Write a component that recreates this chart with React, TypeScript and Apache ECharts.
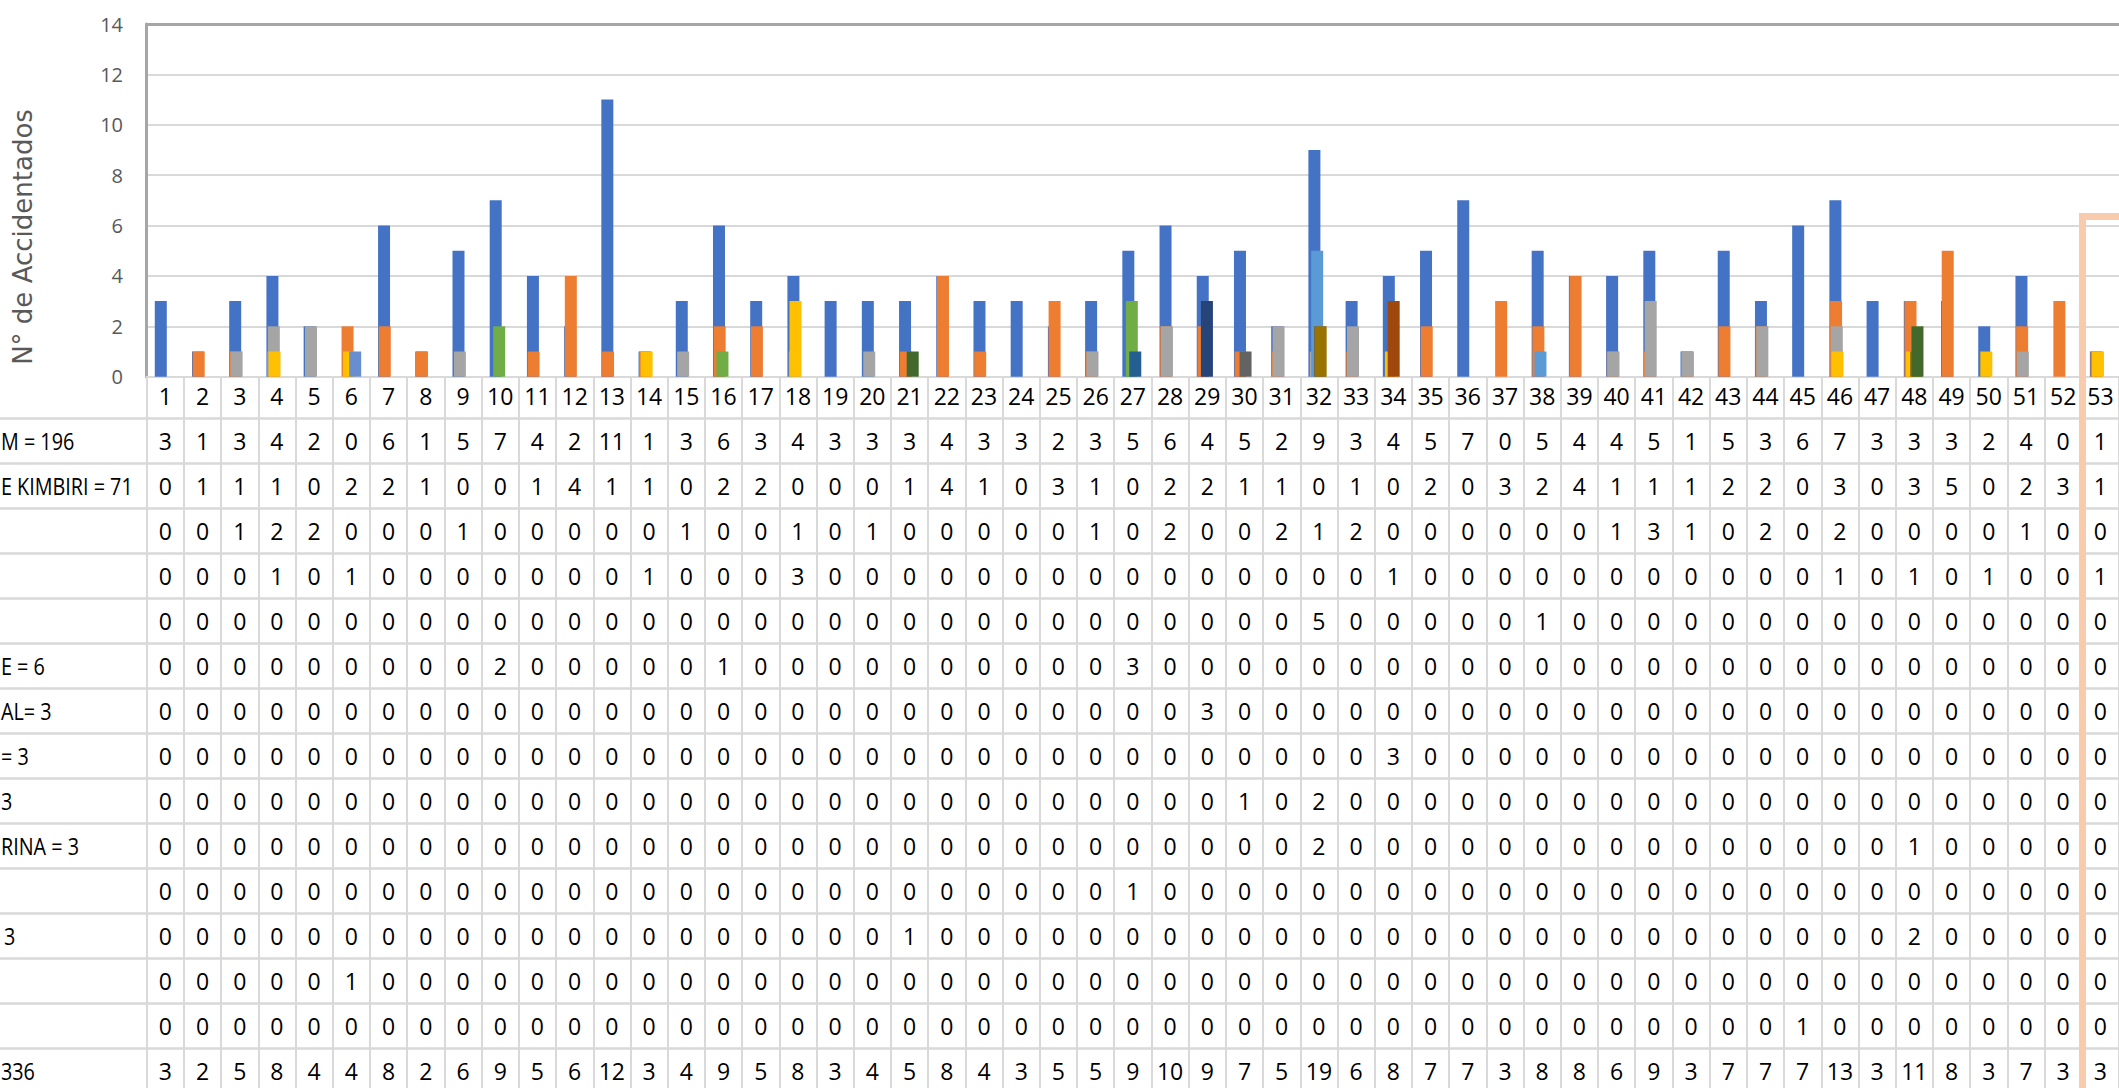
import React, { useEffect, useRef } from "react";
import * as echarts from "echarts";

// ---------- DATA ----------
const weeks = [
  "1","2","3","4","5","6","7","8","9","10",
  "11","12","13","14","15","16","17","18","19","20",
  "21","22","23","24","25","26","27","28","29","30",
  "31","32","33","34","35","36","37","38","39","40",
  "41","42","43","44","45","46","47","48","49","50",
  "51","52","53",
];

const s1 = [3,1,3,4,2,0,6,1,5,7, 4,2,11,1,3,6,3,4,3,3, 3,4,3,3,2,3,5,6,4,5, 2,9,3,4,5,7,0,5,4,4, 5,1,5,3,6,7,3,3,3,2, 4,0,1];
const s2 = [0,1,1,1,0,2,2,1,0,0, 1,4,1,1,0,2,2,0,0,0, 1,4,1,0,3,1,0,2,2,1, 1,0,1,0,2,0,3,2,4,1, 1,1,2,2,0,3,0,3,5,0, 2,3,1];
const s3 = [0,0,1,2,2,0,0,0,1,0, 0,0,0,0,1,0,0,1,0,1, 0,0,0,0,0,1,0,2,0,0, 2,1,2,0,0,0,0,0,0,1, 3,1,0,2,0,2,0,0,0,0, 1,0,0];
const s4 = [0,0,0,1,0,1,0,0,0,0, 0,0,0,1,0,0,0,3,0,0, 0,0,0,0,0,0,0,0,0,0, 0,0,0,1,0,0,0,0,0,0, 0,0,0,0,0,1,0,1,0,1, 0,0,1];
const s5 = [0,0,0,0,0,0,0,0,0,0, 0,0,0,0,0,0,0,0,0,0, 0,0,0,0,0,0,0,0,0,0, 0,5,0,0,0,0,0,1,0,0, 0,0,0,0,0,0,0,0,0,0, 0,0,0];
const s6 = [0,0,0,0,0,0,0,0,0,2, 0,0,0,0,0,1,0,0,0,0, 0,0,0,0,0,0,3,0,0,0, 0,0,0,0,0,0,0,0,0,0, 0,0,0,0,0,0,0,0,0,0, 0,0,0];
const s7 = [0,0,0,0,0,0,0,0,0,0, 0,0,0,0,0,0,0,0,0,0, 0,0,0,0,0,0,0,0,3,0, 0,0,0,0,0,0,0,0,0,0, 0,0,0,0,0,0,0,0,0,0, 0,0,0];
const s8 = [0,0,0,0,0,0,0,0,0,0, 0,0,0,0,0,0,0,0,0,0, 0,0,0,0,0,0,0,0,0,0, 0,0,0,3,0,0,0,0,0,0, 0,0,0,0,0,0,0,0,0,0, 0,0,0];
const s9 = [0,0,0,0,0,0,0,0,0,0, 0,0,0,0,0,0,0,0,0,0, 0,0,0,0,0,0,0,0,0,1, 0,2,0,0,0,0,0,0,0,0, 0,0,0,0,0,0,0,0,0,0, 0,0,0];
const s10 = [0,0,0,0,0,0,0,0,0,0, 0,0,0,0,0,0,0,0,0,0, 0,0,0,0,0,0,0,0,0,0, 0,2,0,0,0,0,0,0,0,0, 0,0,0,0,0,0,0,1,0,0, 0,0,0];
const s11 = [0,0,0,0,0,0,0,0,0,0, 0,0,0,0,0,0,0,0,0,0, 0,0,0,0,0,0,1,0,0,0, 0,0,0,0,0,0,0,0,0,0, 0,0,0,0,0,0,0,0,0,0, 0,0,0];
const s12 = [0,0,0,0,0,0,0,0,0,0, 0,0,0,0,0,0,0,0,0,0, 1,0,0,0,0,0,0,0,0,0, 0,0,0,0,0,0,0,0,0,0, 0,0,0,0,0,0,0,2,0,0, 0,0,0];
const s13 = [0,0,0,0,0,1,0,0,0,0, 0,0,0,0,0,0,0,0,0,0, 0,0,0,0,0,0,0,0,0,0, 0,0,0,0,0,0,0,0,0,0, 0,0,0,0,0,0,0,0,0,0, 0,0,0];
const s14 = [0,0,0,0,0,0,0,0,0,0, 0,0,0,0,0,0,0,0,0,0, 0,0,0,0,0,0,0,0,0,0, 0,0,0,0,0,0,0,0,0,0, 0,0,0,0,1,0,0,0,0,0, 0,0,0];
const totals = [3,2,5,8,4,4,8,2,6,9, 5,6,12,3,4,9,5,8,3,4, 5,8,4,3,5,5,9,10,9,7, 5,19,6,8,7,7,3,8,8,6, 9,3,7,7,7,13,3,11,8,3, 7,3,3];

const rowLabels = ["M = 196", "E KIMBIRI = 71", "", "", "", "E = 6", "AL= 3", "= 3", "3", "RINA = 3", "", "3", "", "", "336"];
const yTitle = "N° de Accidentados";

const barSeries = [s1, s2, s3, s4, s5, s6, s7, s8, s9, s10, s11, s12, s13, s14];
const tableRows = [s1, s2, s3, s4, s5, s6, s7, s8, s9, s10, s11, s12, s13, s14, totals];

// ---------- STYLE / LAYOUT ----------
const colors = ["#4472C4","#ED7D31","#A5A5A5","#FFC000","#5B9BD5","#70AD47","#264478","#9E480E","#636363","#997300","#255E91","#43682B","#698ED0","rgba(241,151,90,0)"];
const labelLeft = [1, 1, 0, 0, 0, 1, 1, 1, 1, 1, 0, 4, 0, 0, 1];

const W = 2119, H = 1088;
const COL_W = 37.27;
const GL = 146.7, GT = 24, GW = 53 * COL_W, GH = 352.7;
const HEADER_H = 41.7, ROW_H = 45;
const TABLE_FONT = "'Open Sans', 'Liberation Sans', sans-serif";
const TABLE_SIZE = 23;
const GRID_GRAY = "#D9D9D9";
const BORDER_GRAY = "#A6A6A6";

export default function App() {
  const ref = useRef<HTMLDivElement>(null);

  useEffect(() => {
    if (!ref.current) return;
    const chart = echarts.init(ref.current, null, { renderer: "svg" });

    const common = {
      type: "category" as const,
      data: weeks,
      gridIndex: 0,
      boundaryGap: true,
      splitLine: { show: false },
    };

    const xAxes: any[] = [];
    xAxes.push({
      ...common,
      position: "bottom",
      axisLine: { show: true, onZero: false, lineStyle: { color: GRID_GRAY, width: 2 } },
      axisTick: { show: true, interval: 0, length: HEADER_H, lineStyle: { color: GRID_GRAY, width: 2 } },
      axisLabel: { show: true, interval: 0, margin: 5, fontSize: TABLE_SIZE, lineHeight: 28, fontFamily: TABLE_FONT, color: "#000" },
    });
    tableRows.forEach((row, r) => {
      xAxes.push({
        ...common,
        position: "bottom",
        offset: HEADER_H + r * ROW_H,
        axisLine: { show: true, onZero: false, lineStyle: { color: GRID_GRAY, width: 2.5 } },
        axisTick: { show: true, interval: 0, length: ROW_H, lineStyle: { color: GRID_GRAY, width: 2 } },
        axisLabel: {
          show: true,
          interval: 0,
          margin: 8.5,
          fontSize: TABLE_SIZE,
          lineHeight: 28,
          fontFamily: TABLE_FONT,
          color: "#000",
          formatter: (v: string) => String(row[weeks.indexOf(v)]),
        },
      });
    });
    xAxes.push({
      ...common,
      position: "top",
      axisLine: { show: true, onZero: false, lineStyle: { color: BORDER_GRAY, width: 3 } },
      axisTick: { show: false },
      axisLabel: { show: false },
    });

    const graphics: any[] = [];
    graphics.push({
      type: "text",
      x: 23,
      y: 237,
      rotation: Math.PI / 2,
      style: {
        text: yTitle,
        fill: "#595959",
        fontSize: 26,
        fontFamily: "'DejaVu Sans', sans-serif",
        align: "center",
        verticalAlign: "middle",
      },
    });
    tableRows.forEach((_, r) => {
      const yTop = GT + GH + HEADER_H + r * ROW_H;
      graphics.push({
        type: "line",
        shape: { x1: 0, y1: yTop, x2: GL, y2: yTop },
        style: { stroke: GRID_GRAY, lineWidth: 2.5 },
      });
      if (rowLabels[r]) {
        graphics.push({
          type: "text",
          x: labelLeft[r],
          y: yTop + ROW_H / 2,
          scaleX: 0.86,
          style: {
            text: rowLabels[r],
            fill: "#000",
            fontSize: TABLE_SIZE,
            fontFamily: TABLE_FONT,
            align: "left",
            verticalAlign: "middle",
          },
        });
      }
    });
    graphics.push({
      type: "rect",
      z: 100,
      shape: { x: 2082.5, y: 216.5, width: 400, height: 1200 },
      style: { fill: "none", stroke: "#F8CBAD", lineWidth: 7 },
    });

    chart.setOption({
      animation: false,
      backgroundColor: "#ffffff",
      grid: { left: GL, top: GT, width: GW, height: GH, containLabel: false },
      xAxis: xAxes,
      yAxis: {
        type: "value",
        min: 0,
        max: 14,
        interval: 2,
        axisLine: { show: true, lineStyle: { color: BORDER_GRAY, width: 3 } },
        axisTick: { show: false },
        axisLabel: { margin: 23.7, fontSize: 20, color: "#595959", fontFamily: TABLE_FONT },
        splitLine: { show: true, lineStyle: { color: GRID_GRAY, width: 2 } },
      },
      series: barSeries.map((d, i) => ({
        type: "bar",
        name: rowLabels[i] || `Serie ${i + 1}`,
        data: d,
        xAxisIndex: 0,
        yAxisIndex: 0,
        barWidth: 12,
        barGap: "-94.2%",
        itemStyle: { color: colors[i] },
        silent: true,
      })),
      graphic: graphics,
    });

    return () => chart.dispose();
  }, []);

  return (
    <div
      ref={ref}
      style={{ position: "fixed", left: 0, top: 0, width: W, height: H, background: "#fff" }}
    />
  );
}
